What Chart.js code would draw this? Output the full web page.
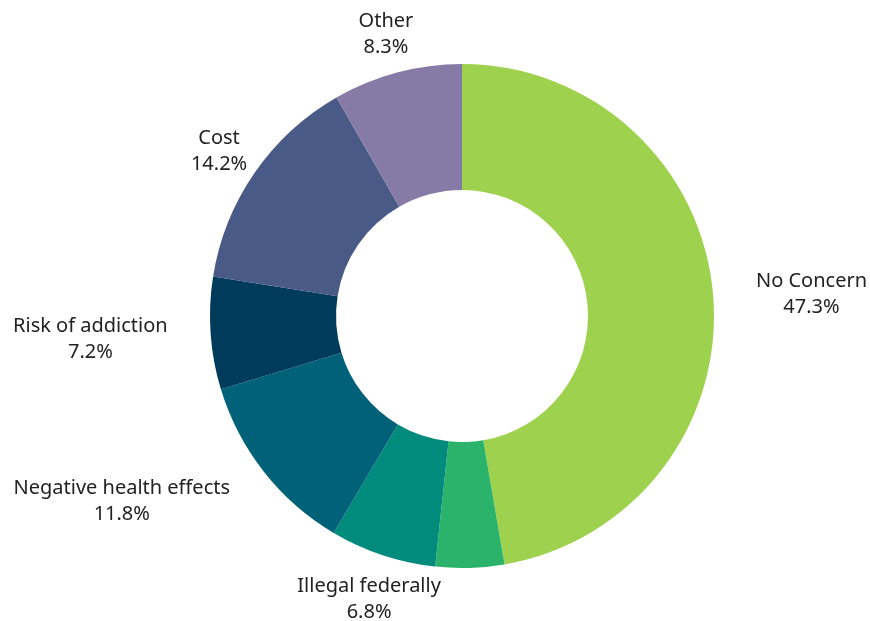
<!DOCTYPE html>
<html>
<head>
<meta charset="utf-8">
<script src="https://cdn.jsdelivr.net/npm/chart.js@4"></script>
<style>
    html, body { margin: 0; padding: 0; background: #ffffff; }
    #wrap { width: 870px; height: 621px; }
</style>
</head>
<body>
<div id="wrap"><canvas id="concernChart" width="870" height="621"></canvas></div>
<script>
// Values (percent of respondents)
const categories = [
    "No Concern",
    "",
    "Illegal federally",
    "Negative health effects",
    "Risk of addiction",
    "Cost",
    "Other",
];
const shares = [47.3, 4.4, 6.8, 11.8, 7.2, 14.2, 8.3];
const sliceColors = [
    "#9ED24E",
    "#2BB26B",
    "#008B7C",
    "#006178",
    "#003B5C",
    "#4A5A86",
    "#857BA6",
];

const labelFont = '20px "Noto Sans", sans-serif';

// Draws "name / value%" outside each slice, Excel style
const outsideLabels = {
    id: "outsideLabels",
    afterDatasetsDraw(chart) {
        const ctx = chart.ctx;
        const meta = chart.getDatasetMeta(0);
        ctx.save();
        ctx.font = labelFont;
        ctx.fillStyle = "#222222";
        ctx.textBaseline = "middle";
        meta.data.forEach((arc, i) => {
            if (!categories[i]) return;
            const p = arc.getProps(["x", "y", "startAngle", "endAngle", "outerRadius"], true);
            const mid = (p.startAngle + p.endAngle) / 2;
            const r = p.outerRadius + 43;
            const ax = p.x + Math.cos(mid) * r;
            const ay = p.y + Math.sin(mid) * r + 3;
            const lines = [categories[i], shares[i].toFixed(1) + "%"];
            const w = Math.max(...lines.map((l) => ctx.measureText(l).width));
            const lh = 26;
            const h = lh * lines.length;

            // try centred on the anchor; if it runs into the ring, hang it off the side
            let cx = ax;
            const left = cx - w / 2, right = cx + w / 2;
            const top = ay - h / 2, bottom = ay + h / 2;
            const nx = Math.max(left, Math.min(p.x, right));
            const ny = Math.max(top, Math.min(p.y, bottom));
            if (Math.hypot(nx - p.x, ny - p.y) < p.outerRadius - 8) {
                cx = ax + (Math.cos(mid) >= 0 ? w / 2 : -w / 2);
            }
            ctx.textAlign = "center";
            lines.forEach((l, k) => {
                ctx.fillText(l, cx, ay - h / 2 + lh / 2 + k * lh);
            });
        });
        ctx.restore();
    },
};

new Chart(document.getElementById("concernChart").getContext("2d"), {
    type: "doughnut",
    data: {
        labels: categories,
        datasets: [
            {
                data: shares,
                backgroundColor: sliceColors,
                borderWidth: 0,
            },
        ],
    },
    options: {
        responsive: false,
        animation: false,
        cutout: "50%",
        layout: {
            padding: { top: 64, bottom: 53, left: 200, right: 146 },
        },
        plugins: {
            legend: { display: false },
            tooltip: { enabled: false },
        },
    },
    plugins: [outsideLabels],
});
</script>
</body>
</html>
